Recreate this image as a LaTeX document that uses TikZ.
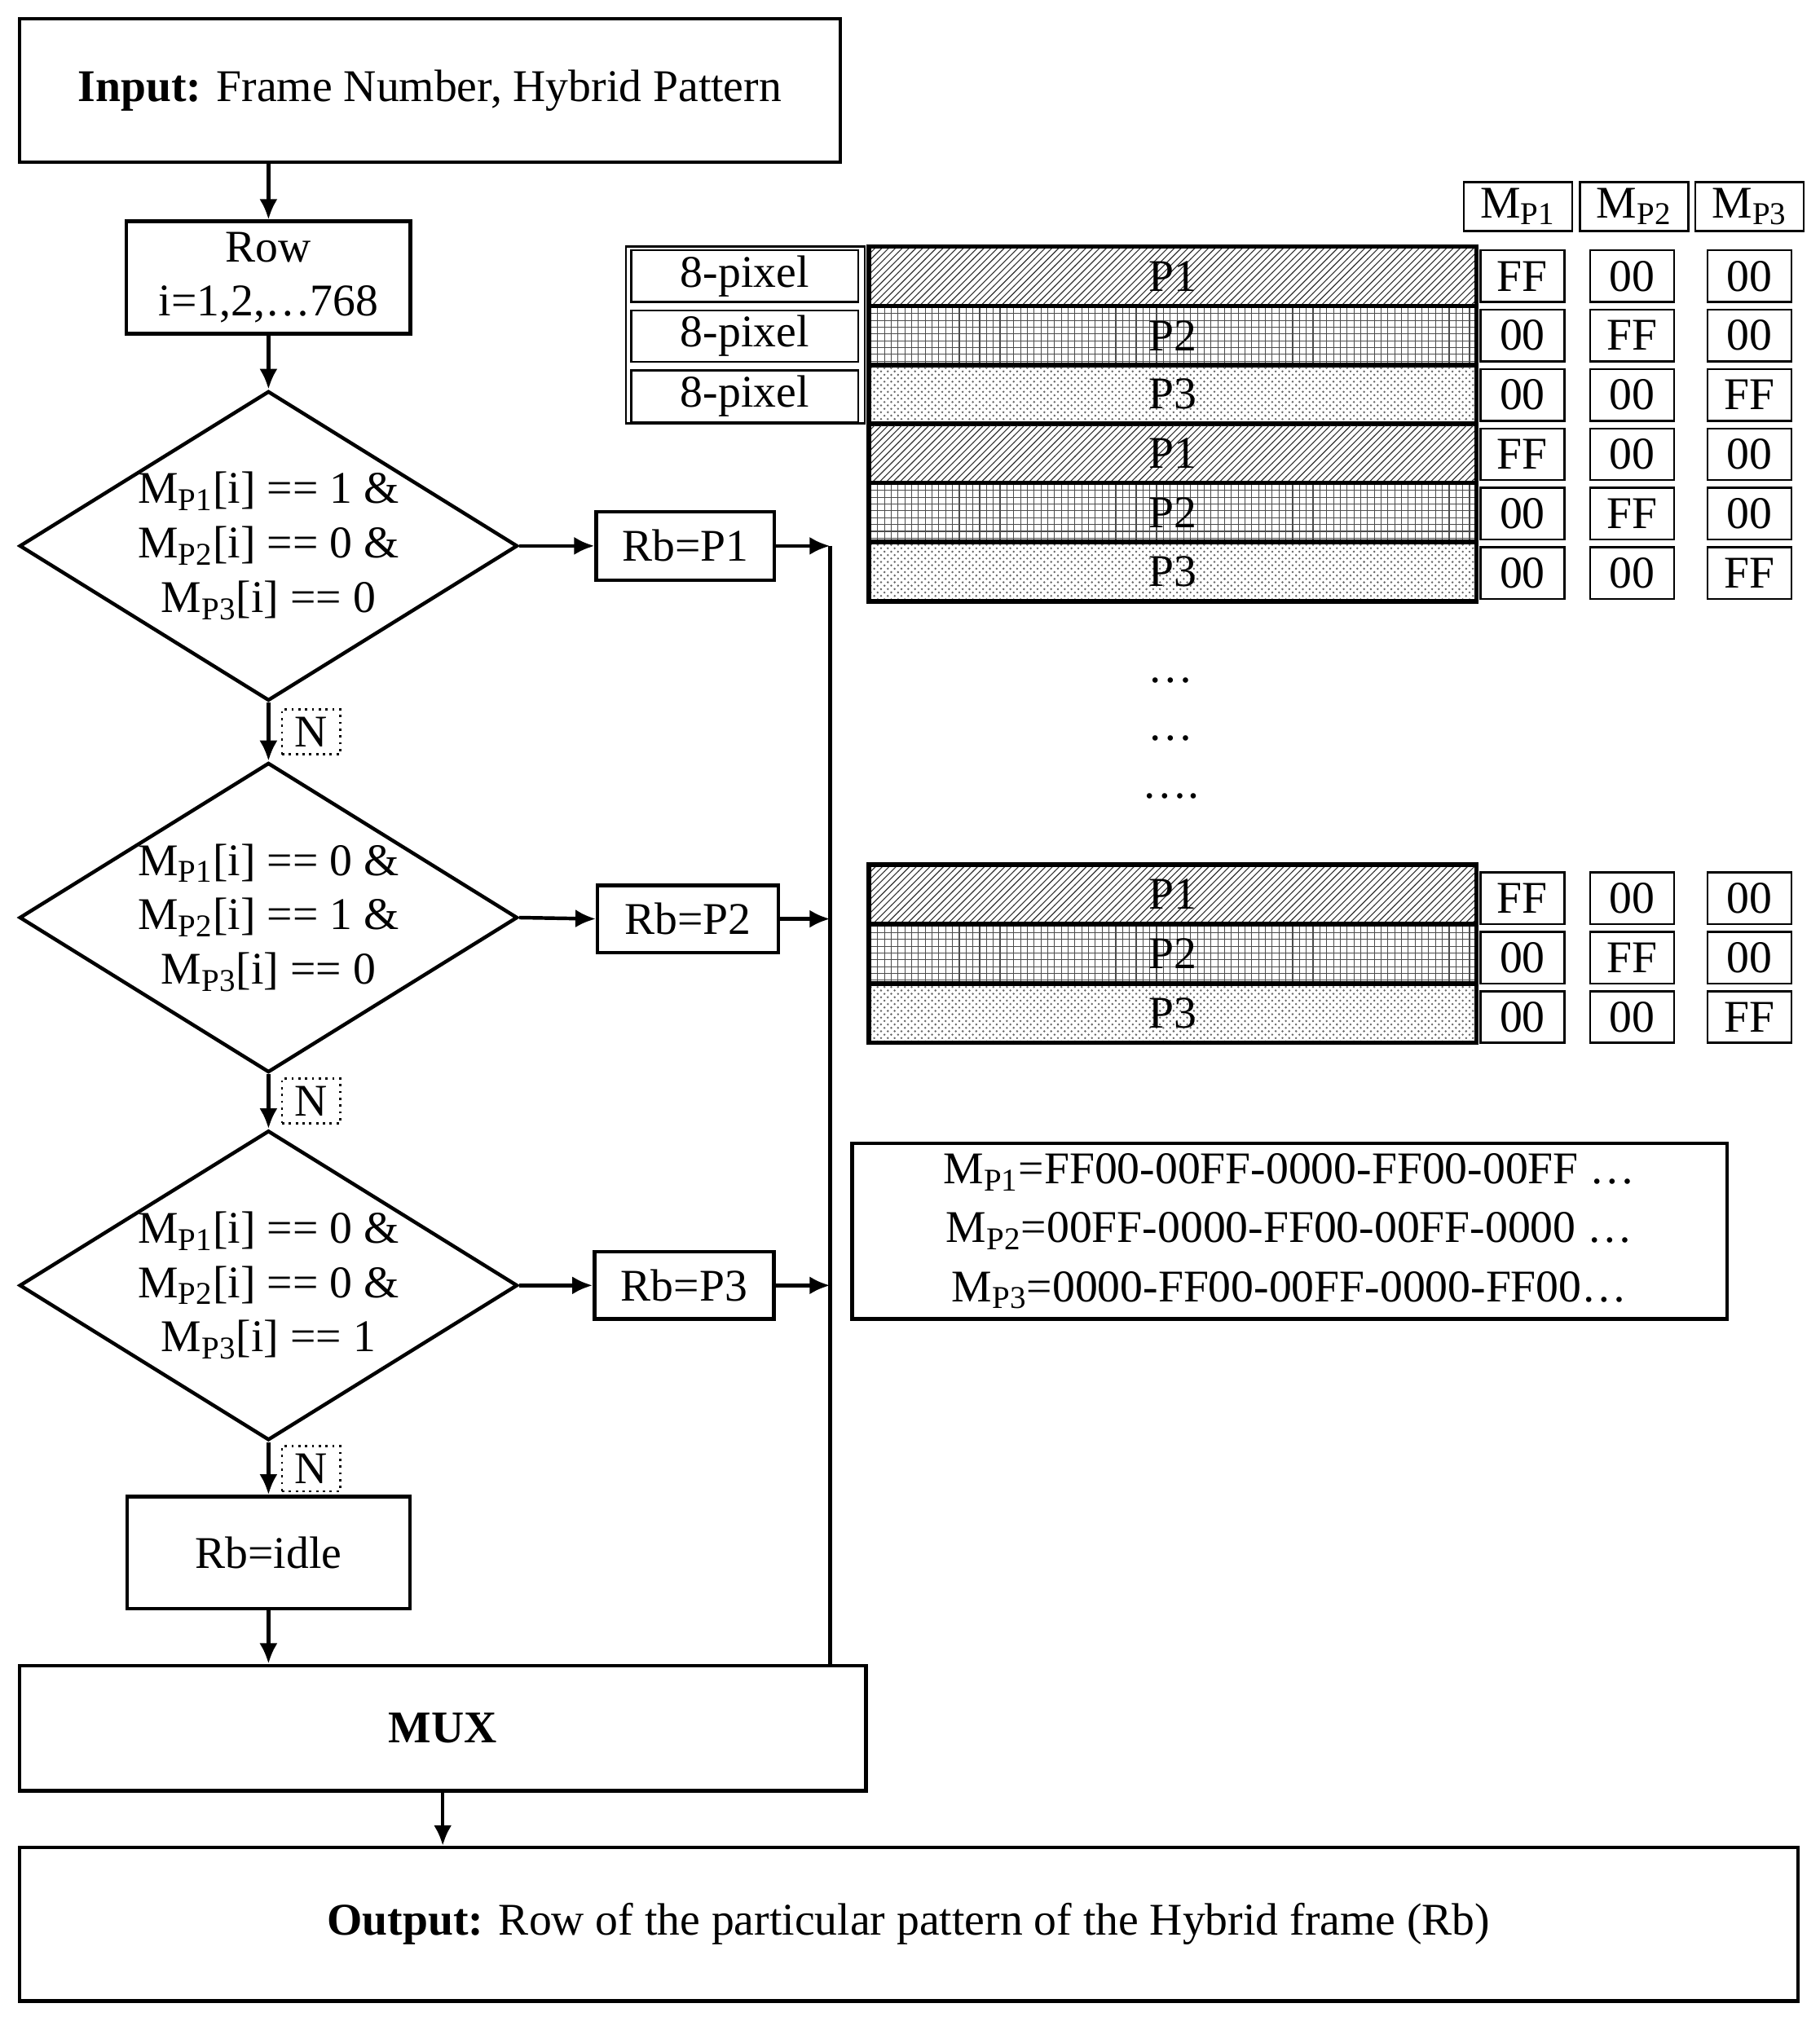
\documentclass[tikz,border=0pt]{standalone}
\usepackage{fontspec}
\setmainfont{Liberation Serif}
\usetikzlibrary{shapes.geometric,arrows.meta,patterns}
\begin{document}
\begin{tikzpicture}[x=0.02cm,y=-0.02cm,
  every node/.style={font=\fontsize{20}{24}\selectfont},
  box/.style={draw,line width=1.6pt,inner sep=0},
  thin box/.style={draw,line width=0.9pt,inner sep=0},
  dia/.style={draw,diamond,line width=1.6pt,minimum width=7.72cm,minimum height=4.8cm,inner sep=0},
  arr/.style={line width=1.6pt,-{Latex[length=9pt,width=8pt]}},
  ln/.style={line width=1.6pt},
  nlab/.style={draw,dotted,line width=1pt,inner sep=1pt,minimum width=0.9cm,minimum height=0.7cm},
  bar/.style={draw,line width=2pt,minimum width=9.42cm,minimum height=0.92cm,inner sep=0},
  pa/.style={bar,pattern=north east lines,pattern color=black!80},
  pb/.style={bar,pattern=grid,pattern color=black!70},
  pc/.style={bar,pattern=crosshatch dots,pattern color=black!60},
  vb/.style={thin box,minimum width=1.3cm,minimum height=0.8cm},
  mb/.style={thin box,minimum width=1.68cm,minimum height=0.76cm},
  pix/.style={thin box,minimum width=3.52cm,minimum height=0.8cm}]
\useasboundingbox (0,0) rectangle (1410,1566);
\newcommand\Mp[1]{M\textsubscript{P#1}}
% left flow
\node[box,minimum width=12.72cm,minimum height=2.22cm] (in) at (333,70) {\textbf{Input:} Frame Number, Hybrid Pattern};
\node[box,minimum width=4.4cm,minimum height=1.74cm,align=center] (row) at (208,215) {Row\\i=1,2,\dots768};
\node[dia] (d1) at (208,423) {};
\node[align=center] at (208,423) {\Mp1[i] == 1 \&\\\Mp2[i] == 0 \&\\\Mp3[i] == 0};
\node[dia] (d2) at (208,711) {};
\node[align=center] at (208,711) {\Mp1[i] == 0 \&\\\Mp2[i] == 1 \&\\\Mp3[i] == 0};
\node[dia] (d3) at (208,996) {};
\node[align=center] at (208,996) {\Mp1[i] == 0 \&\\\Mp2[i] == 0 \&\\\Mp3[i] == 1};
\node[box,minimum width=4.38cm,minimum height=1.74cm] (idle) at (208,1203) {Rb=idle};
\node[box,minimum width=13.12cm,minimum height=1.94cm] (mux) at (343,1339) {\textbf{MUX}};
\node[box,minimum width=27.56cm,minimum height=2.38cm] (out) at (704,1491) {\textbf{Output:} Row of the particular pattern of the Hybrid frame (Rb)};
\node[nlab] (n1) at (241,567) {N};
\node[nlab] (n2) at (241,853) {N};
\node[nlab] (n3) at (241,1138) {N};
\node[box,minimum width=2.76cm,minimum height=1.06cm] (r1) at (531,423) {Rb=P1};
\node[box,minimum width=2.8cm,minimum height=1.04cm] (r2) at (533,712) {Rb=P2};
\node[box,minimum width=2.78cm,minimum height=1.04cm] (r3) at (530,996) {Rb=P3};
\coordinate (c1) at (643,423);
\coordinate (c2) at (643,712);
\coordinate (c3) at (643,996);
\coordinate (cm) at (643,1291);
\draw[arr] (in.south -| row) -- (row.north);
\draw[arr] (row.south) -- (d1.north);
\draw[arr] (d1.south) -- (d2.north);
\draw[arr] (d2.south) -- (d3.north);
\draw[arr] (d3.south) -- (idle.north);
\draw[arr] (idle.south) -- (mux.north -| idle);
\draw[arr] (mux.south) -- (out.north -| mux);
\draw[arr] (d1.east) -- (r1.west);
\draw[arr] (d2.east) -- (r2.west);
\draw[arr] (d3.east) -- (r3.west);
\draw[arr] (r1.east) -- (c1);
\draw[arr] (r2.east) -- (c2);
\draw[arr] (r3.east) -- (c3);
\draw[ln] (c1) -- (cm);
% pattern bars
\node[pa] (a1) at (908.5,214) {P1};
\node[pb] (a2) at (908.5,260) {P2};
\node[pc] (a3) at (908.5,305.5) {P3};
\node[pa] (a4) at (908.5,351) {P1};
\node[pb] (a5) at (908.5,397) {P2};
\node[pc] (a6) at (908.5,443) {P3};
\node[pa] (b1) at (908.5,693) {P1};
\node[pb] (b2) at (908.5,739) {P2};
\node[pc] (b3) at (908.5,785) {P3};
\node[thin box,minimum width=3.7cm,minimum height=2.74cm] (pixout) at (577.5,259.5) {};
\node[pix] (x1) at (577,214) {8-pixel};
\node[pix] (x2) at (577,260.5) {8-pixel};
\node[pix] (x3) at (577,307) {8-pixel};
% headers
\node[mb] (h1) at (1176,160) {\Mp1};
\node[mb] (h2) at (1266,160) {\Mp2};
\node[mb] (h3) at (1355.5,160) {\Mp3};
\foreach \y/\u/\v/\w [count=\k] in {214/FF/00/00,260/00/FF/00,306/00/00/FF,352/FF/00/00,398/00/FF/00,444/00/00/FF,696/FF/00/00,742/00/FF/00,788/00/00/FF}{
  \node[vb] (va\k) at (1179.5,\y) {\u};
  \node[vb] (vb\k) at (1264.5,\y) {\v};
  \node[vb] (vc\k) at (1355.5,\y) {\w};
}
\node (dot1) at (907,527) {\dots};
\node (dot2) at (907,572) {\dots};
\node (dot3) at (907,617) {\dots.};
\node[box,minimum width=13.56cm,minimum height=2.72cm,align=center] (str) at (999,954)
 {\Mp1=FF00-00FF-0000-FF00-00FF \dots\\[2pt]\Mp2=00FF-0000-FF00-00FF-0000 \dots\\[2pt]\Mp3=0000-FF00-00FF-0000-FF00\dots};
\end{tikzpicture}
\end{document}
